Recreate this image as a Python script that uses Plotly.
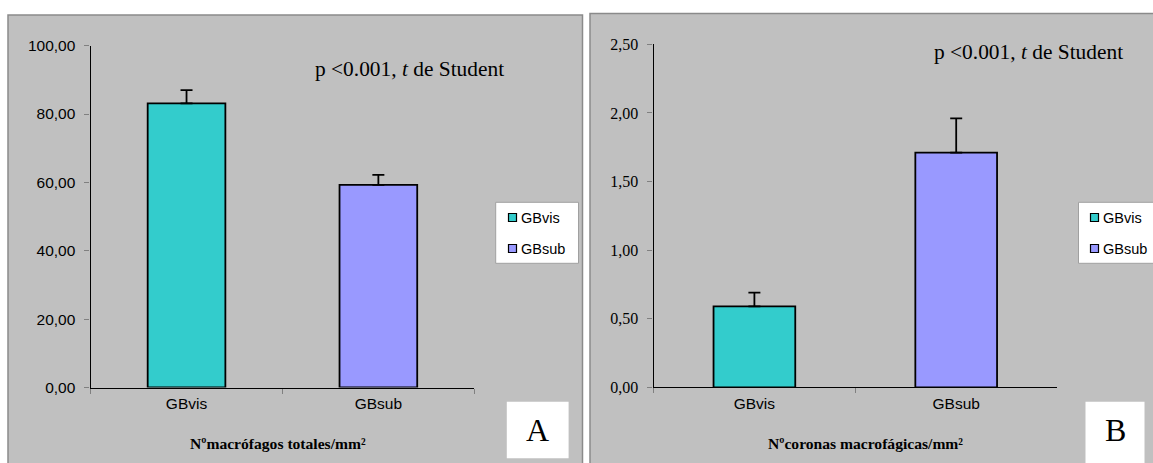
import plotly.graph_objects as go

# ---- data ----
groups = ["GBvis", "GBsub"]
colors = ["#33CCCC", "#9999FF"]

macro_mean = [83.1, 59.3]      # Nº macrófagos totales/mm²
macro_sem = [3.9, 2.9]

corona_mean = [0.59, 1.71]     # Nº coronas macrofágicas/mm²
corona_sem = [0.10, 0.25]

y_ticks_a = [0, 20, 40, 60, 80, 100]
y_ticks_b = [0, 0.5, 1.0, 1.5, 2.0, 2.5]

W, H = 1153, 463
SANS = "Arial, Liberation Sans, sans-serif"
SERIF = "Times New Roman, Liberation Serif, serif"


def px(x):
    return x / W


def py(y):
    return 1 - y / H


fig = go.Figure()

panels = [
    dict(xa="x", ya="y", means=macro_mean, errs=macro_sem),
    dict(xa="x2", ya="y2", means=corona_mean, errs=corona_sem),
]
for p in panels:
    for g, c, m, e in zip(groups, colors, p["means"], p["errs"]):
        fig.add_trace(go.Bar(
            x=[g], y=[m], name=g, xaxis=p["xa"], yaxis=p["ya"],
            width=0.405, showlegend=False,
            marker=dict(color=c, line=dict(color="black", width=1.8)),
            error_y=dict(type="data", array=[e], arrayminus=[0], symmetric=False,
                         color="black", thickness=1.8, width=6),
        ))

axis_common = dict(showline=True, linecolor="black", linewidth=1.3, showgrid=False,
                   zeroline=False, ticks="outside", ticklen=5, tickcolor="#808080",
                   automargin=False)

fig.update_layout(
    width=W, height=H, autosize=False,
    margin=dict(l=0, r=0, t=0, b=0, pad=0, autoexpand=False),
    paper_bgcolor="white", plot_bgcolor="rgba(0,0,0,0)",
    barmode="overlay", separators=",.",
    showlegend=False,
    xaxis=dict(domain=[px(90.6), px(474.3)], anchor="y", type="category",
               categoryorder="array", categoryarray=groups, range=[-0.5, 1.5],
               tickson="boundaries", tickfont=dict(family=SANS, size=15.5, color="black"),
               ticklabelstandoff=2, **axis_common),
    yaxis=dict(domain=[py(387.5), py(45.7)], anchor="x", range=[0, 100],
               tickvals=y_ticks_a, tickformat=".2f",
               tickfont=dict(family=SANS, size=15.5, color="black"),
               ticklabelstandoff=6, **axis_common),
    xaxis2=dict(domain=[px(653.5), px(1057.1)], anchor="y2", type="category",
                categoryorder="array", categoryarray=groups, range=[-0.5, 1.5],
                tickson="boundaries", tickfont=dict(family=SANS, size=15.5, color="black"),
                ticklabelstandoff=2, **axis_common),
    yaxis2=dict(domain=[py(387.3), py(44.3)], anchor="x2", range=[0, 2.5],
                tickvals=y_ticks_b, tickformat=".2f",
                tickfont=dict(family=SERIF, size=16, color="black"),
                ticklabelstandoff=6, **axis_common),
)

shapes = []
annotations = []

# grey chart areas
for x0, x1, y0 in [(8, 582.5, 15), (590, 1160, 13.5)]:
    shapes.append(dict(type="rect", xref="paper", yref="paper", layer="below",
                       x0=px(x0), x1=px(x1), y0=py(470), y1=py(y0),
                       fillcolor="#C0C0C0", line=dict(color="#8A8A8A", width=1.5)))

# legends
for (lx0, lx1, sq_cx, txt_x) in [(495.7, 578.5, 512.5, 518.7), (1078.5, 1160, 1094.5, 1101)]:
    shapes.append(dict(type="rect", xref="paper", yref="paper",
                       x0=px(lx0), x1=px(lx1), y0=py(263.3), y1=py(202.3),
                       fillcolor="white", line=dict(color="#A0A0A0", width=1)))
    for i, (g, c) in enumerate(zip(groups, colors)):
        cy = 217.5 + 31 * i
        shapes.append(dict(type="rect", xref="paper", yref="paper",
                           x0=px(sq_cx - 4), x1=px(sq_cx + 4), y0=py(cy + 4), y1=py(cy - 4),
                           fillcolor=c, line=dict(color="black", width=1.2)))
        annotations.append(dict(xref="paper", yref="paper", x=px(txt_x), y=py(cy),
                                xanchor="left", yanchor="middle", showarrow=False, text=g,
                                font=dict(family=SANS, size=14.5, color="black")))

# panel letter boxes
for (bx0, bx1, by0, by1, letter) in [(506.8, 568.6, 401.7, 458.3, "A"), (1085.5, 1144.5, 401.7, 466, "B")]:
    shapes.append(dict(type="rect", xref="paper", yref="paper",
                       x0=px(bx0), x1=px(bx1), y0=py(by1), y1=py(by0),
                       fillcolor="white", line=dict(width=0)))
    annotations.append(dict(xref="paper", yref="paper", x=px((bx0 + bx1) / 2), y=py(430),
                            xanchor="center", yanchor="middle", showarrow=False, text=letter,
                            font=dict(family=SERIF, size=32, color="black")))

# significance notes
for cx, cy in [(409.8, 69.3), (1028, 52.3)]:
    annotations.append(dict(xref="paper", yref="paper", x=px(cx), y=py(cy),
                            xanchor="center", yanchor="middle", showarrow=False,
                            text="p &lt;0.001, <i>t</i> de Student",
                            font=dict(family=SERIF, size=21.4, color="black")))

# axis captions
for cx, txt in [(277.5, "Nºmacrófagos totales/mm²"), (865.6, "Nºcoronas macrofágicas/mm²")]:
    annotations.append(dict(xref="paper", yref="paper", x=px(cx), y=py(443.3),
                            xanchor="center", yanchor="middle", showarrow=False,
                            text=f"<b>{txt}</b>",
                            font=dict(family=SERIF, size=15.6, color="black")))

fig.update_layout(shapes=shapes, annotations=annotations)

fig.write_html("out.html")
